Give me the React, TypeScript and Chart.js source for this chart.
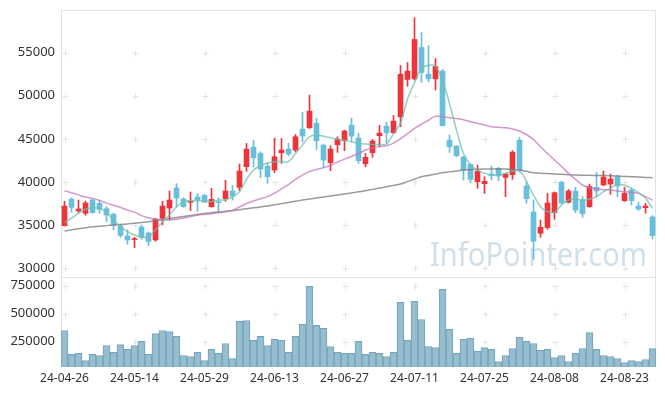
import React, { useEffect, useRef } from "react";
import { Chart, registerables } from "chart.js";

Chart.register(...registerables);

const dates = [
  "24-04-26","24-04-29","24-04-30","24-05-02","24-05-03","24-05-07","24-05-08","24-05-09","24-05-10","24-05-13",
  "24-05-14","24-05-16","24-05-17","24-05-20","24-05-21","24-05-22","24-05-23","24-05-24","24-05-27","24-05-28",
  "24-05-29","24-05-30","24-05-31","24-06-03","24-06-04","24-06-05","24-06-07","24-06-10","24-06-11","24-06-12",
  "24-06-13","24-06-14","24-06-17","24-06-18","24-06-19","24-06-20","24-06-21","24-06-24","24-06-25","24-06-26",
  "24-06-27","24-06-28","24-07-01","24-07-02","24-07-03","24-07-04","24-07-05","24-07-08","24-07-09","24-07-10",
  "24-07-11","24-07-12","24-07-15","24-07-16","24-07-17","24-07-18","24-07-19","24-07-22","24-07-23","24-07-24",
  "24-07-25","24-07-26","24-07-29","24-07-30","24-07-31","24-08-01","24-08-02","24-08-05","24-08-06","24-08-07",
  "24-08-08","24-08-09","24-08-12","24-08-13","24-08-14","24-08-16","24-08-19","24-08-20","24-08-21","24-08-22",
  "24-08-23","24-08-26","24-08-27","24-08-28","24-08-29",
];

const opens = [
  34940,38020,36640,36370,37910,37520,36910,36250,34900,33740,
  33320,34780,34090,33280,35790,36980,39300,38020,37640,38260,
  38450,37140,37700,38060,38950,39380,41770,44040,43310,41840,
  41380,43390,43810,43700,46130,46280,46820,44270,42230,44310,
  44780,46590,45090,42110,43390,45360,46470,45700,47550,51880,
  51950,55580,52490,51950,52840,44850,44160,42890,42040,40030,
  39800,40920,41570,40530,40840,44850,39530,36520,34050,34710,
  36440,39950,37640,38950,37910,37140,39380,39650,39760,40610,
  37830,39070,37210,37020,35940,
];
const highs = [
  37760,38140,37910,37790,38020,37910,37140,36400,35130,34440,
  33590,35020,34200,35790,37760,38950,39800,38180,38840,38640,
  38560,39260,38180,40190,39610,42080,44470,44820,43500,42230,
  45050,45050,44470,45510,48060,50060,47360,44390,44200,45240,
  46010,47400,45630,43310,44930,46550,46940,47710,53500,53840,
  59050,57320,55810,54310,53030,45430,44200,42950,42100,41960,
  40610,41840,41700,40990,43620,45160,40030,37910,35590,38680,
  38840,40110,39140,39380,38300,39760,41110,41270,40920,40800,
  39380,39300,37680,37520,36100,
];
const lows = [
  34900,36480,36440,36130,36370,36370,35400,34440,33590,32780,
  32390,33360,32620,33130,35020,35590,37060,37060,36680,36600,
  37640,37060,36520,37760,37910,38990,41230,41770,40490,39840,
  41070,42150,43040,43460,44660,46200,43770,41650,41300,43430,
  43620,44700,42150,41770,42850,44080,44470,45630,46400,51100,
  51800,51530,51600,50660,46510,43430,42920,40220,39920,39260,
  38680,40220,40150,38300,40300,41150,37520,31040,33590,34510,
  35670,37450,37560,36440,35900,37060,38300,39570,38570,38300,
  37750,37330,36680,36370,33400,
];
const closes = [
  37210,37060,36870,37560,36440,36830,36170,34980,33820,33280,
  33430,33630,33090,35710,37210,37910,38140,37140,37760,37910,
  37640,37990,37600,38950,38370,41270,43810,42810,41500,40610,
  42920,43700,43230,45240,45320,48210,44780,42540,43810,44970,
  45900,45320,42460,42850,44740,45660,45700,47050,52490,52840,
  56510,52690,51950,53380,46510,44080,43040,41380,40300,41230,
  40070,40730,40690,40920,43460,41300,38060,33130,34750,37560,
  38760,37560,38950,36750,36330,39490,38950,40570,40340,39530,
  38680,37830,36870,37210,33780,
];

const ma5 = [
  35280,35800,36370,36830,37010,36940,36440,35590,34820,34240,
  33850,33590,33660,34430,35390,36170,37130,37720,37830,37830,
  37790,37720,37910,37950,38300,38870,40300,41380,41880,42200,
  42350,42400,42350,43300,44300,45240,45430,45300,45120,44950,
  44850,44650,44470,44400,44350,44350,44400,45600,46800,49600,
  51500,53150,53530,53420,51800,49100,46010,43310,41960,41380,
  41000,40800,40800,41000,41270,41300,40030,38490,37140,36560,
  36480,37330,37910,37990,37910,37990,38300,38870,39260,39760,
  39610,39260,38760,38100,36940,
];
const ma20 = [
  38990,38750,38500,38250,38100,37850,37550,37300,37050,36750,
  36500,36100,35850,35670,35600,35620,35680,35820,35980,36150,
  36250,36330,36420,36550,36700,37100,37500,37800,38050,38300,
  38700,39200,39700,40300,40800,41200,41450,41650,41900,42300,
  42650,42950,43300,43700,43950,44100,44200,44500,45000,45600,
  46200,46700,47150,47630,47550,47450,47360,47200,46980,46800,
  46600,46400,46330,46280,46150,45900,45500,44900,44100,43300,
  42540,41800,41000,40300,39650,39350,39180,39100,39070,38950,
  38870,38780,38680,38300,37900,
];
const ma60 = [
  34320,34450,34570,34690,34800,34870,34940,35010,35080,35140,
  35210,35300,35390,35500,35620,35750,35880,36000,36120,36240,
  36360,36440,36520,36600,36680,36780,36890,37000,37100,37210,
  37350,37490,37630,37770,37900,38020,38140,38250,38370,38490,
  38610,38730,38860,38990,39140,39290,39450,39600,39760,40040,
  40320,40600,40760,40920,41070,41170,41280,41380,41420,41460,
  41500,41500,41500,41500,41440,41380,41230,41070,41020,40970,
  40920,40880,40840,40800,40780,40770,40750,40740,40720,40680,
  40640,40610,40570,40530,40490,
];

const volumes = [
  351000,137000,146000,83000,137000,128000,217000,155000,226000,182000,
  217000,253000,137000,324000,351000,342000,298000,128000,119000,155000,
  83000,182000,146000,235000,101000,432000,440000,262000,298000,217000,
  271000,262000,155000,298000,405000,744000,396000,369000,208000,155000,
  146000,146000,253000,137000,155000,146000,119000,155000,601000,262000,
  610000,449000,208000,199000,717000,360000,146000,271000,280000,164000,
  199000,182000,74000,128000,190000,289000,253000,235000,173000,182000,
  110000,128000,74000,146000,190000,333000,182000,128000,119000,101000,
  65000,83000,74000,92000,190000,
];

const priceTicks = [30000, 35000, 40000, 45000, 50000, 55000];
const volumeTicks = [250000, 500000, 750000];
const labelEvery = 10;
const watermark = "InfoPointer.com";

const UP = "rgb(236,52,58)";
const DOWN = "rgb(104,191,220)";
const FONT = "'Noto Sans', sans-serif";

function decorPlugin(yTicks: number[], wm: boolean) {
  return {
    id: "decor",
    beforeDatasetsDraw(chart: any) {
      const { ctx, chartArea } = chart;
      const xs = chart.scales.x;
      const ys = chart.scales.y;
      ctx.save();
      ctx.strokeStyle = "#e2e2e2";
      ctx.lineWidth = 1;
      ctx.strokeRect(
        Math.round(chartArea.left) + 0.5,
        Math.round(chartArea.top) + 0.5,
        Math.round(chartArea.right - chartArea.left) - 1,
        Math.round(chartArea.bottom - chartArea.top) - 1
      );
      ctx.strokeStyle = "#e4e4e4";
      for (let i = 0; i < dates.length; i += labelEvery) {
        const px = Math.round(xs.getPixelForValue(i)) + 0.5;
        for (const v of yTicks) {
          const py = Math.round(ys.getPixelForValue(v)) + 0.5;
          ctx.beginPath();
          ctx.moveTo(px - 3, py);
          ctx.lineTo(px + 3, py);
          ctx.moveTo(px, py - 3);
          ctx.lineTo(px, py + 3);
          ctx.stroke();
        }
      }
      if (wm) {
        ctx.font = "32px " + FONT;
        ctx.fillStyle = "rgba(176,204,222,0.6)";
        ctx.textBaseline = "alphabetic";
        const w = ctx.measureText(watermark).width;
        const targetW = 217;
        ctx.translate(430, 266);
        ctx.scale(targetW / w, 1);
        ctx.fillText(watermark, 0, 0);
      }
      ctx.restore();
    },
  };
}

const fitY = (s: any) => {
  s.width = 61;
  s.paddingTop = 0;
  s.paddingBottom = 0;
};

export default function App() {
  const priceRef = useRef<HTMLCanvasElement>(null);
  const volRef = useRef<HTMLCanvasElement>(null);

  useEffect(() => {
    Chart.defaults.font.family = FONT;
    const colors = opens.map((o, i) => (closes[i] >= o ? UP : DOWN));
    const tickFont = { size: 13, family: FONT };

    const price = new Chart(priceRef.current!, {
      type: "bar",
      data: {
        labels: dates,
        datasets: [
          {
            type: "line",
            data: ma5,
            borderColor: "rgba(110,192,172,0.75)",
            borderWidth: 1.5,
            pointRadius: 0,
            tension: 0.35,
            fill: false,
            order: 0,
          } as any,
          {
            type: "line",
            data: ma20,
            borderColor: "rgba(196,118,190,0.75)",
            borderWidth: 1.5,
            pointRadius: 0,
            tension: 0.35,
            fill: false,
            order: 0,
          },
          {
            type: "line",
            data: ma60,
            borderColor: "rgba(120,120,120,0.75)",
            borderWidth: 1.5,
            pointRadius: 0,
            tension: 0.35,
            fill: false,
            order: 0,
          },
          {
            type: "bar",
            data: opens.map((o, i) => [o, closes[i]]),
            backgroundColor: colors,
            barThickness: 5,
            minBarLength: 1,
            grouped: false,
            order: 1,
          },
          {
            type: "bar",
            data: lows.map((l, i) => [l, highs[i]]),
            backgroundColor: colors,
            barThickness: 1,
            grouped: false,
            order: 2,
          },
        ],
      },
      options: {
        responsive: false,
        animation: false,
        events: [],
        layout: { padding: { top: 10, right: 9, bottom: 2, left: 0 } },
        plugins: { legend: { display: false }, tooltip: { enabled: false } },
        scales: {
          x: { type: "category", offset: true, display: false },
          y: {
            min: 28870,
            max: 59930,
            afterBuildTicks: (s: any) => {
              s.ticks = priceTicks.map((v) => ({ value: v }));
            },
            afterFit: fitY,
            grid: { display: false, drawTicks: false },
            border: { display: false },
            ticks: { font: tickFont, color: "#333", padding: 6, callback: (v: any) => String(v) },
          },
        },
      } as any,
      plugins: [decorPlugin(priceTicks, true)],
    });

    const vol = new Chart(volRef.current!, {
      type: "bar",
      data: {
        labels: dates,
        datasets: [
          {
            data: volumes,
            backgroundColor: "rgba(145,187,205,0.95)",
            borderColor: "rgb(118,163,185)",
            borderWidth: 1,
            barPercentage: 1,
            categoryPercentage: 1,
          },
        ],
      },
      options: {
        responsive: false,
        animation: false,
        events: [],
        layout: { padding: { top: 7, right: 9, bottom: 0, left: 0 } },
        plugins: { legend: { display: false }, tooltip: { enabled: false } },
        scales: {
          x: {
            type: "category",
            offset: true,
            grid: { display: false, drawTicks: false },
            border: { display: false },
            afterFit: (s: any) => {
              s.height = 29;
              s.paddingLeft = 0;
              s.paddingRight = 0;
            },
            ticks: {
              autoSkip: false,
              maxRotation: 0,
              minRotation: 0,
              padding: 4,
              color: "#333",
              font: { size: 12, family: FONT },
              callback: (_v: any, i: number) => (i % labelEvery === 0 ? dates[i] : ""),
            },
          },
          y: {
            min: 25000,
            max: 828000,
            afterBuildTicks: (s: any) => {
              s.ticks = volumeTicks.map((v) => ({ value: v }));
            },
            afterFit: fitY,
            grid: { display: false, drawTicks: false },
            border: { display: false },
            ticks: { font: tickFont, color: "#333", padding: 6, callback: (v: any) => String(v) },
          },
        },
      } as any,
      plugins: [decorPlugin(volumeTicks, false)],
    });

    return () => {
      price.destroy();
      vol.destroy();
    };
  }, []);

  return (
    <div style={{ position: "fixed", left: 0, top: 0, width: 665, height: 396, background: "#fff" }}>
      <canvas ref={priceRef} width={665} height={280} style={{ position: "absolute", left: 0, top: 0 }} />
      <canvas ref={volRef} width={665} height={126} style={{ position: "absolute", left: 0, top: 270 }} />
    </div>
  );
}
